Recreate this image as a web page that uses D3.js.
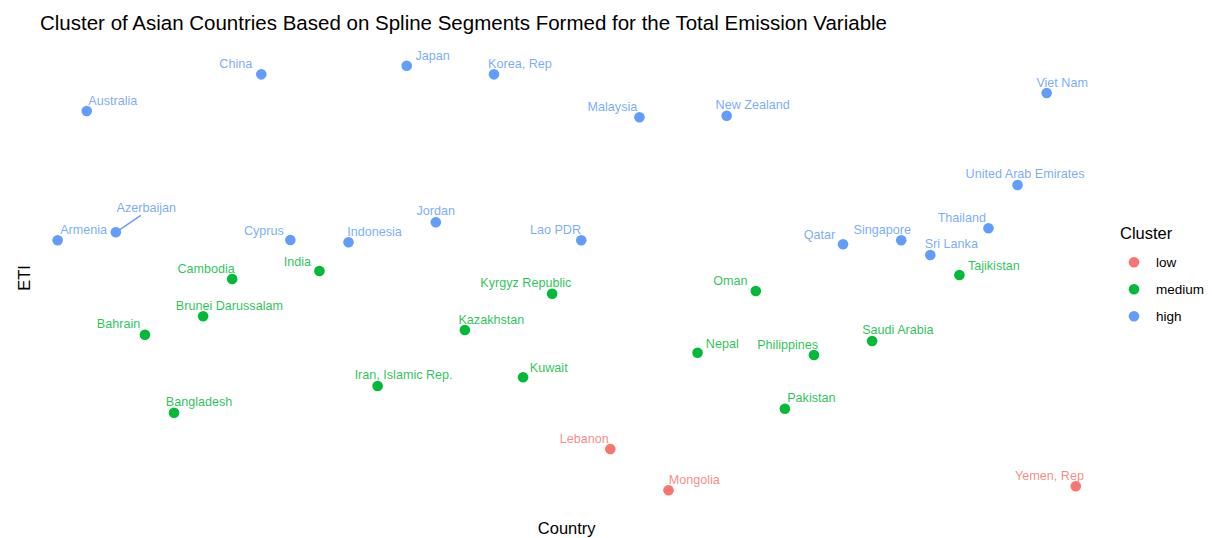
<!DOCTYPE html>
<html>
<head>
<meta charset="utf-8">
<script src="https://cdn.jsdelivr.net/npm/d3@7"></script>
<style>
  body { margin: 0; background: #fff; }
  text { font-family: Arial, "Liberation Sans", sans-serif; }
</style>
</head>
<body>
<div id="chart"></div>
<script>
// data (ETI units are arbitrary, no ticks shown)
const countries = ["Armenia", "Australia", "Azerbaijan", "Bahrain", "Bangladesh", "Brunei Darussalam",
  "Cambodia", "China", "Cyprus", "India", "Indonesia", "Iran, Islamic Rep.", "Japan", "Jordan",
  "Kazakhstan", "Korea, Rep", "Kuwait", "Kyrgyz Republic", "Lao PDR", "Lebanon", "Malaysia",
  "Mongolia", "Nepal", "New Zealand", "Oman", "Pakistan", "Philippines", "Qatar", "Saudi Arabia",
  "Singapore", "Sri Lanka", "Tajikistan", "Thailand", "United Arab Emirates", "Viet Nam", "Yemen, Rep"];

const eti = [25.97, 38.90, 26.77, 16.53, 8.73, 18.37,
  22.10, 42.57, 26.00, 22.90, 25.77, 11.40, 43.43, 27.77,
  17.00, 42.57, 12.27, 20.63, 25.97, 5.10, 38.27,
  0.97, 14.73, 38.43, 20.90, 9.13, 14.50, 25.57, 15.90,
  25.97, 24.50, 22.50, 27.17, 31.50, 40.70, 1.37];

const cluster = ["high", "high", "high", "medium", "medium", "medium",
  "medium", "high", "high", "medium", "high", "medium", "high", "high",
  "medium", "high", "medium", "medium", "high", "low", "high",
  "low", "medium", "high", "medium", "medium", "medium", "high", "medium",
  "high", "high", "medium", "high", "high", "high", "low"];

const clusterLevels = ["low", "medium", "high"];

// label placement (like the repel result): offset of label centre from the point, px
const labelOffset = {
  "Armenia": [26, -10], "Australia": [26, -10], "Azerbaijan": [30.5, -24], "Bahrain": [-26.4, -10.4],
  "Bangladesh": [25, -10.7], "Brunei Darussalam": [26.3, -10.6], "Cambodia": [-26, -9.7],
  "China": [-25.5, -10], "Cyprus": [-26.5, -9.5], "India": [-22, -9], "Indonesia": [26, -10.3],
  "Iran, Islamic Rep.": [26, -10.7], "Japan": [26, -10], "Jordan": [0, -11], "Kazakhstan": [26.5, -10],
  "Korea, Rep": [26, -10], "Kuwait": [25.7, -9.7], "Kyrgyz Republic": [-26.3, -10.4],
  "Lao PDR": [-25.8, -10], "Lebanon": [-26, -9.7], "Malaysia": [-27, -10], "Mongolia": [25.7, -10.3],
  "Nepal": [24.7, -8.7], "New Zealand": [26, -11], "Oman": [-25.5, -9.7], "Pakistan": [26.5, -10.7],
  "Philippines": [-26.3, -10.3], "Qatar": [-23.6, -9.6], "Saudi Arabia": [25.8, -11],
  "Singapore": [-19, -10.3], "Sri Lanka": [21, -11], "Tajikistan": [34.4, -9], "Thailand": [-26.7, -10.6],
  "United Arab Emirates": [7.5, -11], "Viet Nam": [15.5, -10], "Yemen, Rep": [-26.2, -10.6]
};

let WIDTH = 1212,
    HEIGHT = 538;

const panel = { left: 40.2, right: 1093.2, top: 44.5, bottom: 511.5 };

let svg = d3.select("#chart")
    .append("svg")
    .attr("width", WIDTH)
    .attr("height", HEIGHT);

let xScale = d3.scalePoint()
    .domain(countries)
    .range([panel.left, panel.right])
    .padding(0.6);

let yExtent = d3.extent(eti);
let pad = (yExtent[1] - yExtent[0]) * 0.05;
let yScale = d3.scaleLinear()
    .domain([yExtent[0] - pad, yExtent[1] + pad])
    .range([panel.bottom, panel.top]);

let colorScale = d3.scaleOrdinal()
    .domain(clusterLevels)
    .range(["#F8766D", "#00BA38", "#619CFF"]);

const rows = countries.map((c, i) => ({ country: c, eti: eti[i], cluster: cluster[i] }));

// title and axis titles
svg.append("text")
    .attr("x", 40)
    .attr("y", 29.5)
    .style("font-size", "20.5px")
    .text("Cluster of Asian Countries Based on Spline Segments Formed for the Total Emission Variable");

svg.append("text")
    .attr("x", (panel.left + panel.right) / 2)
    .attr("y", 534)
    .attr("text-anchor", "middle")
    .style("font-size", "16.5px")
    .text("Country");

svg.append("text")
    .attr("transform", `translate(30,${(panel.top + panel.bottom) / 2}) rotate(-90)`)
    .attr("text-anchor", "middle")
    .style("font-size", "16.5px")
    .text("ETI");

// connector segment for the label that got pushed away
svg.selectAll("line.seg")
    .data(rows.filter(d => d.country === "Azerbaijan"))
    .enter()
    .append("line")
    .attr("class", "seg")
    .attr("x1", d => xScale(d.country))
    .attr("y1", d => yScale(d.eti))
    .attr("x2", d => xScale(d.country) + 25)
    .attr("y2", d => yScale(d.eti) - 17)
    .style("stroke", d => colorScale(d.cluster))
    .style("stroke-width", 1.4);

svg.selectAll("circle.pt")
    .data(rows)
    .enter()
    .append("circle")
    .attr("class", "pt")
    .attr("cx", d => xScale(d.country))
    .attr("cy", d => yScale(d.eti))
    .attr("r", 5.3)
    .style("fill", d => colorScale(d.cluster));

svg.selectAll("text.lbl")
    .data(rows)
    .enter()
    .append("text")
    .attr("class", "lbl")
    .attr("x", d => xScale(d.country) + labelOffset[d.country][0])
    .attr("y", d => yScale(d.eti) + labelOffset[d.country][1])
    .attr("text-anchor", "middle")
    .attr("dominant-baseline", "central")
    .style("font-size", "12.6px")
    .style("fill", d => colorScale(d.cluster))
    .style("fill-opacity", 0.85)
    .text(d => d.country);

// legend
let legend = svg.append("g").attr("transform", "translate(1120,0)");

legend.append("text")
    .attr("x", 0)
    .attr("y", 239)
    .style("font-size", "16.5px")
    .text("Cluster");

let keys = legend.selectAll("g.key")
    .data(clusterLevels)
    .enter()
    .append("g")
    .attr("class", "key")
    .attr("transform", (d, i) => `translate(0,${262.3 + i * 27})`);

keys.append("circle")
    .attr("cx", 14)
    .attr("cy", 0)
    .attr("r", 5.3)
    .style("fill", d => colorScale(d));

keys.append("text")
    .attr("x", 36)
    .attr("y", 0)
    .attr("dominant-baseline", "central")
    .style("font-size", "13.5px")
    .text(d => d);
</script>
</body>
</html>
